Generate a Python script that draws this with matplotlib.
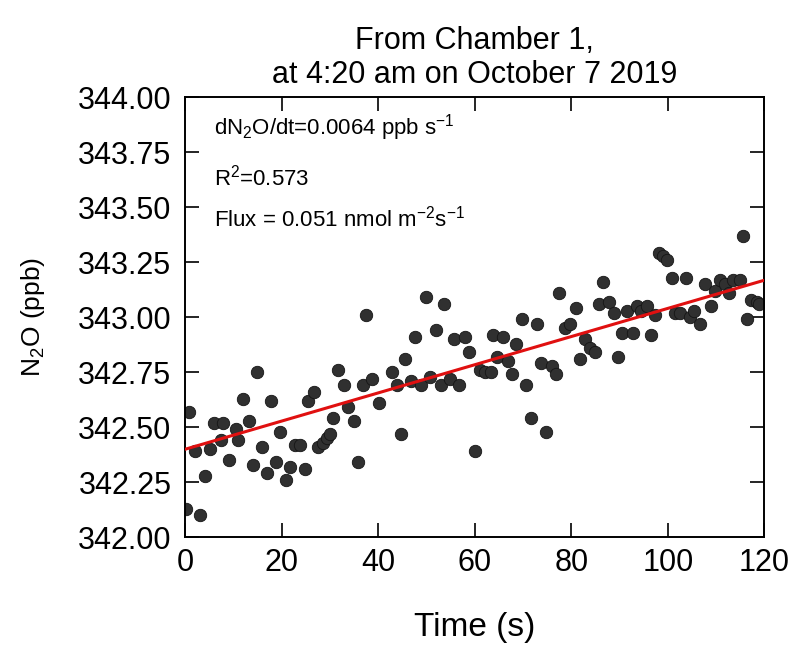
import numpy as np
import matplotlib
matplotlib.use('Agg')
import matplotlib.pyplot as plt

plt.rcParams['font.family'] = ['Liberation Sans', 'DejaVu Sans']
plt.rcParams['mathtext.fontset'] = 'custom'
plt.rcParams['mathtext.rm'] = 'Liberation Sans'
plt.rcParams['mathtext.it'] = 'Liberation Sans:italic'

# time (s) and N2O (ppb)
time_s = [0.1, 0.8, 2.0, 3.1, 4.1, 5.2, 6.0, 7.4, 7.9, 9.1, 10.4, 11.0, 11.9, 13.1,
          14.0, 14.8, 15.8, 16.9, 17.8, 18.8, 19.6, 20.9, 21.7, 22.8, 23.7, 24.8,
          25.4, 26.6, 27.6, 28.5, 29.4, 29.9, 30.6, 31.6, 32.8, 33.7, 34.9, 35.7,
          36.8, 37.5, 38.7, 40.2, 42.8, 43.8, 44.7, 45.6, 46.8, 47.7, 48.9, 49.8,
          50.8, 52.0, 52.9, 53.7, 54.9, 55.7, 56.8, 57.9, 58.8, 60.0, 61.0, 62.2,
          63.4, 63.8, 64.7, 65.8, 66.9, 67.8, 68.6, 69.8, 70.7, 71.7, 72.8, 73.8,
          74.8, 75.9, 76.9, 77.5, 78.6, 79.8, 80.9, 81.9, 82.8, 83.8, 84.9, 85.8,
          86.6, 87.8, 88.8, 89.7, 90.6, 91.6, 92.8, 93.6, 94.5, 95.7, 96.6, 97.3,
          98.2, 99.0, 99.9, 100.8, 101.5, 102.5, 103.7, 104.6, 105.4, 106.6, 107.7,
          108.9, 109.8, 110.8, 111.8, 112.7, 113.6, 115.0, 115.6, 116.4, 117.3,
          118.4, 119.0]
n2o_ppb = [342.13, 342.57, 342.39, 342.10, 342.28, 342.40, 342.52, 342.44, 342.52,
           342.35, 342.49, 342.44, 342.63, 342.53, 342.33, 342.75, 342.41, 342.29,
           342.62, 342.34, 342.48, 342.26, 342.32, 342.42, 342.42, 342.31, 342.62,
           342.66, 342.41, 342.43, 342.45, 342.47, 342.54, 342.76, 342.69, 342.59,
           342.53, 342.34, 342.69, 343.01, 342.72, 342.61, 342.75, 342.69, 342.47,
           342.81, 342.71, 342.91, 342.69, 343.09, 342.73, 342.94, 342.69, 343.06,
           342.72, 342.90, 342.69, 342.91, 342.84, 342.39, 342.76, 342.75, 342.75,
           342.92, 342.82, 342.91, 342.80, 342.74, 342.88, 342.99, 342.69, 342.54,
           342.97, 342.79, 342.48, 342.78, 342.74, 343.11, 342.95, 342.97, 343.04,
           342.81, 342.90, 342.86, 342.84, 343.06, 343.16, 343.07, 343.02, 342.82,
           342.93, 343.03, 342.93, 343.05, 343.03, 343.05, 342.92, 343.01, 343.29,
           343.28, 343.26, 343.18, 343.02, 343.02, 343.18, 343.00, 343.03, 342.97,
           343.15, 343.05, 343.12, 343.17, 343.15, 343.11, 343.17, 343.17, 343.37,
           342.99, 343.08, 343.07, 343.06]

fit_slope = 0.0064
fit_intercept = 342.40
fit_range = [0, 120]

x_ticks = [0, 20, 40, 60, 80, 100, 120]
y_ticks = [342.00, 342.25, 342.50, 342.75, 343.00, 343.25, 343.50, 343.75, 344.00]

fig = plt.figure(figsize=(7.92, 6.48), dpi=100)
ax = fig.add_axes([0.234, 0.171, 0.731, 0.679])

ax.scatter(time_s, n2o_ppb, s=80, color='#303030', edgecolors='#151515', linewidths=0.6, zorder=2)
fx = np.array(fit_range)
ax.plot(fx, fit_intercept + fit_slope * fx, color='#e01010', lw=2.2, zorder=3)

ax.set_xlim(0, 120)
ax.set_ylim(342, 344)
ax.set_xticks(x_ticks)
ax.set_yticks(y_ticks)
ax.set_yticklabels(['%.2f' % v for v in y_ticks])
ax.tick_params(direction='in', length=10, width=1.2, labelsize=22, top=True, right=True, pad=8)
ax.tick_params(axis='y', pad=10)
for sp in ax.spines.values():
    sp.set_linewidth(1.4)

ax.set_xlabel('Time (s)', fontsize=24, labelpad=24)
ax.set_ylabel('N$\\mathregular{_2}$O (ppb)', fontsize=19, labelpad=22)
ax.set_title('From Chamber 1,\nat 4:20 am on October 7 2019', fontsize=22, pad=10, linespacing=1.2)

ax.text(0.05, 0.915, 'dN$\\mathregular{_2}$O/dt=0.0064 ppb s$\\mathregular{^{-1}}$',
        transform=ax.transAxes, fontsize=16)
ax.text(0.05, 0.80, 'R$\\mathregular{^2}$=0.573', transform=ax.transAxes, fontsize=16)
ax.text(0.05, 0.705, 'Flux = 0.051 nmol m$\\mathregular{^{-2}}$s$\\mathregular{^{-1}}$',
        transform=ax.transAxes, fontsize=16)

fig.savefig('out.png', dpi=100)
